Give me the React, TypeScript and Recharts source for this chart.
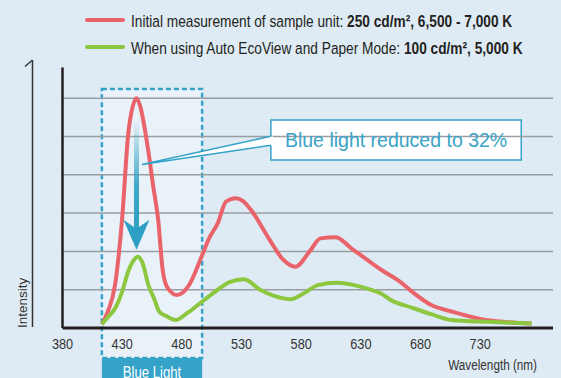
import React from 'react';
import { LineChart, Line, XAxis, YAxis, ReferenceArea, ReferenceLine } from 'recharts';

// wavelength (nm) / relative intensity
const initialNm = [413, 418, 424, 430, 435, 439, 442, 445, 452, 456, 460, 464, 468, 476, 486, 497, 503, 510, 517, 525, 531, 538, 552, 565, 575, 588, 596, 609, 622, 638, 647, 664, 672, 689, 706, 731, 750, 773];
const initialIntensity = [0.1, 0.43, 1.12, 2.87, 5.04, 5.8, 6.0, 5.8, 4.6, 3.7, 2.87, 1.5, 1.05, 0.86, 1.12, 1.9, 2.35, 2.73, 3.3, 3.39, 3.32, 3.08, 2.38, 1.78, 1.6, 2.04, 2.34, 2.37, 2.08, 1.72, 1.52, 1.18, 0.97, 0.6, 0.43, 0.23, 0.16, 0.12];

const ecoNm = [413, 418, 424, 430, 435, 440, 443, 447, 452, 457, 461, 467, 475, 485, 497, 508, 520, 532, 546, 558, 571, 582, 594, 610, 627, 638, 647, 655, 672, 689, 706, 737, 773];
const ecoIntensity = [0.1, 0.28, 0.51, 0.95, 1.47, 1.78, 1.86, 1.7, 1.12, 0.75, 0.43, 0.31, 0.21, 0.4, 0.69, 0.95, 1.2, 1.27, 0.99, 0.83, 0.75, 0.9, 1.12, 1.18, 1.1, 1.0, 0.9, 0.73, 0.54, 0.36, 0.21, 0.16, 0.12];

const wavelengthTicks = [380, 430, 480, 530, 580, 630, 680, 730];
const gridLevels = [1, 2, 3, 4, 5, 6];
const blueLightBand = [413, 497];

const legendItems = [
    { color: '#e9636b', text: 'Initial measurement of sample unit: ', bold: '250 cd/m², 6,500 - 7,000 K' },
    { color: '#8dc63f', text: 'When using Auto EcoView and Paper Mode: ', bold: '100 cd/m², 5,000 K' },
];

const SANS = '"Liberation Sans", Arial, sans-serif';
const SQUEEZE = 'scale(0.82, 1)';
const BLUE = '#35a2c9';

const initialData = initialNm.map((nm, i) => ({ nm, value: initialIntensity[i] }));
const ecoData = ecoNm.map((nm, i) => ({ nm, value: ecoIntensity[i] }));

const DropArrow = (p: any) => {
    const { x1, y1, y2 } = p;
    const head = 30;
    return (
        <g>
            <rect x={x1 - 2.5} y={y1} width={5} height={y2 - y1 - head + 10} fill="url(#dropFade)" />
            <polygon
                points={`${x1 - 13},${y2 - head} ${x1},${y2 - head + 9} ${x1 + 13},${y2 - head} ${x1},${y2}`}
                fill="#2e9fc3"
            />
        </g>
    );
};

const Pointer = (p: any) => {
    const { x1, y1, x2, y2 } = p;
    const half = 4.5;
    return (
        <g>
            <polygon points={`${x1},${y1} ${x2 + 2},${y2 - half} ${x2 + 2},${y2 + half}`} fill="#fff" />
            <polyline
                points={`${x2},${y2 - half} ${x1},${y1} ${x2},${y2 + half}`}
                fill="none"
                stroke={BLUE}
                strokeWidth={1.5}
            />
        </g>
    );
};

const NarrowTick = ({ x, y, payload }: any) => (
    <g transform={`translate(${x},${y})`}>
        <text transform={SQUEEZE} textAnchor="middle" dy="0.71em" fontSize={15.5} fill="#333" fontFamily={SANS}>
            {payload.value}
        </text>
    </g>
);

function App() {
    return (
        <div style={{ position: 'absolute', left: 0, top: 0, width: 561, height: 378, background: '#dfebf4', overflow: 'hidden' }}>
            <LineChart width={561} height={378} margin={{ top: 67.5, right: 8, bottom: 20, left: 2.5 }}>
                <defs>
                    <linearGradient id="dropFade" x1="0" y1="0" x2="0" y2="1">
                        <stop offset="0%" stopColor="#2e9fc3" stopOpacity={0} />
                        <stop offset="60%" stopColor="#2e9fc3" stopOpacity={0.9} />
                        <stop offset="100%" stopColor="#2e9fc3" stopOpacity={1} />
                    </linearGradient>
                </defs>
                <ReferenceArea
                    x1={blueLightBand[0]}
                    x2={blueLightBand[1]}
                    y1={-0.78}
                    y2={6.24}
                    ifOverflow="visible"
                    fill="#e9f2f8"
                    fillOpacity={1}
                    stroke={BLUE}
                    strokeWidth={2.5}
                    strokeDasharray="5 3"
                />
                {gridLevels.map((level) => (
                    <ReferenceLine key={level} y={level} stroke="#9a9da1" strokeWidth={1.5} />
                ))}
                <XAxis
                    type="number"
                    dataKey="nm"
                    domain={[380, 791]}
                    ticks={wavelengthTicks}
                    allowDataOverflow
                    tickLine={false}
                    tickMargin={4}
                    axisLine={{ stroke: '#231f20', strokeWidth: 3 }}
                    tick={<NarrowTick />}
                    height={30}
                    label={{
                        content: ({ viewBox }: any) => (
                            <g transform={`translate(${viewBox.x + viewBox.width - 16},${viewBox.y + 42})`}>
                                <text transform={SQUEEZE} textAnchor="end" fontSize={14.3} fill="#333" fontFamily={SANS}>
                                    Wavelength (nm)
                                </text>
                            </g>
                        ),
                    }}
                />
                <YAxis
                    type="number"
                    domain={[0, 6.8]}
                    allowDataOverflow
                    tick={false}
                    tickLine={false}
                    width={60}
                    axisLine={{ stroke: '#231f20', strokeWidth: 2.5 }}
                />
                <ReferenceArea
                    x1={blueLightBand[0]}
                    x2={blueLightBand[1]}
                    y1={-1.4}
                    y2={-0.78}
                    ifOverflow="visible"
                    fill={BLUE}
                    fillOpacity={1}
                    label={{
                        content: ({ viewBox }: any) => (
                            <g transform={`translate(${viewBox.x + viewBox.width / 2},${viewBox.y + 20})`}>
                                <text transform={SQUEEZE} textAnchor="middle" fontSize={16} fill="#fff" fontFamily={SANS}>
                                    Blue Light
                                </text>
                            </g>
                        ),
                    }}
                />
                <Line
                    data={initialData}
                    dataKey="value"
                    type="monotone"
                    stroke="#e9636b"
                    strokeWidth={4}
                    dot={false}
                    isAnimationActive={false}
                />
                <Line
                    data={ecoData}
                    dataKey="value"
                    type="monotone"
                    stroke="#8dc63f"
                    strokeWidth={4}
                    dot={false}
                    isAnimationActive={false}
                />
                <ReferenceLine
                    segment={[{ x: 442, y: 5.43 }, { x: 442, y: 2.04 }]}
                    ifOverflow="visible"
                    shape={DropArrow}
                />
                <ReferenceArea
                    x1={554.6}
                    x2={764.4}
                    y1={4.385}
                    y2={5.43}
                    fill="#fff"
                    fillOpacity={1}
                    stroke={BLUE}
                    strokeWidth={1.5}
                    label={{
                        value: 'Blue light reduced to 32%',
                        position: 'center',
                        fill: '#3aa3c8',
                        stroke: 'none',
                        fontSize: 19.5,
                        fontFamily: SANS,
                    }}
                />
                <ReferenceLine
                    segment={[{ x: 446.5, y: 4.27 }, { x: 554.6, y: 4.89 }]}
                    ifOverflow="visible"
                    shape={Pointer}
                />
            </LineChart>
            <svg width={561} height={378} style={{ position: 'absolute', left: 0, top: 0, pointerEvents: 'none' }}>
                {legendItems.map((item, i) => (
                    <g key={i}>
                        <line x1={87} x2={123} y1={20 + i * 27} y2={20 + i * 27} stroke={item.color} strokeWidth={4} strokeLinecap="round" />
                        <g transform={`translate(131,${26.5 + i * 27})`}>
                            <text transform={SQUEEZE} fontSize={16.7} fill="#231f20" fontFamily={SANS}>
                                <tspan>{item.text}</tspan>
                                <tspan fontWeight="bold">{item.bold}</tspan>
                            </text>
                        </g>
                    </g>
                ))}
                <line x1={32.5} y1={60} x2={32.5} y2={327} stroke="#333" strokeWidth={1.5} />
                <line x1={32.5} y1={60} x2={25} y2={66.5} stroke="#333" strokeWidth={1.5} />
                <text x={26.5} y={328} transform="rotate(-90, 26.5, 328)" fontSize={13.5} fill="#333" fontFamily={SANS}>
                    Intensity
                </text>
            </svg>
        </div>
    );
}

export default App;
